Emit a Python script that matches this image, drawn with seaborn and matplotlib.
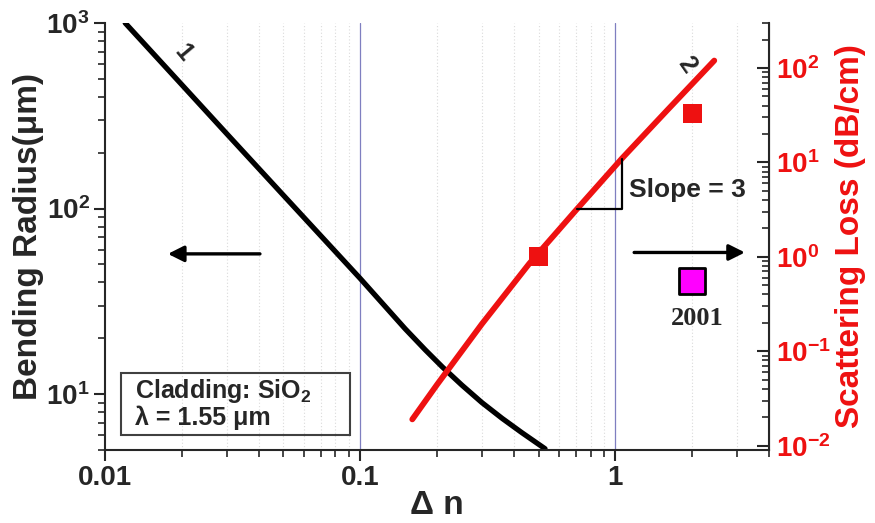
import numpy as np
import pandas as pd
import matplotlib
matplotlib.use("Agg")
import matplotlib.pyplot as plt
import matplotlib.ticker as mticker
from matplotlib.patches import Rectangle
import seaborn as sns

# curve 1: bending radius (um) vs index contrast
dn_bend = [0.012, 0.02, 0.03, 0.05, 0.1, 0.15, 0.18, 0.21, 0.25, 0.3, 0.36, 0.43, 0.53]
radius = [1000, 465, 253, 118, 42, 22.5, 17.3, 14.0, 11.2, 9.0, 7.4, 6.2, 5.08]

# curve 2: scattering loss (dB/cm) vs index contrast
dn_loss = [0.16, 0.2, 0.3, 0.46, 0.71, 1.06, 1.6, 2.44]
loss = [0.019, 0.0443, 0.195, 0.85, 3.25, 11.0, 36, 120]

# measured points
dn_meas = [0.5, 2.0]
loss_meas = [1.0, 33]
dn_2001 = [2.0]
loss_2001 = [0.56]

sns.set_style("white")
plt.rcParams['font.family'] = ['Liberation Sans', 'DejaVu Sans']
plt.rcParams['font.weight'] = 'bold'
plt.rcParams['axes.unicode_minus'] = False
plt.rcParams['mathtext.fontset'] = 'custom'
plt.rcParams['mathtext.rm'] = 'Liberation Sans:bold'
plt.rcParams['mathtext.bf'] = 'Liberation Sans:bold'
plt.rcParams['mathtext.it'] = 'Liberation Sans:bold:italic'
plt.rcParams['mathtext.default'] = 'regular'

fig = plt.figure(figsize=(8.75, 5.23), dpi=100)
ax = fig.add_axes([0.12, 0.1396, 0.7589, 0.8164])
ax2 = ax.twinx()

ax.set_xscale('log')
ax.set_yscale('log')
ax2.set_yscale('log')
ax.set_xlim(0.01, 4)
ax.set_ylim(5, 1000)
ax2.set_ylim(0.009, 300)

# light dotted grid at minor x positions, blue lines at decades
for dec in [0.01, 0.1, 1]:
    for m in range(2, 10):
        v = dec * m
        if v < 4:
            ax.axvline(v, color='#dadada', lw=0.8, ls=(0, (1, 2)), zorder=0)
for v in [0.1, 1]:
    ax.axvline(v, color='#7f7fc0', lw=0.9, zorder=0)

df1 = pd.DataFrame({'dn': dn_bend, 'r': radius})
df2 = pd.DataFrame({'dn': dn_loss, 'l': loss})
sns.lineplot(data=df1, x='dn', y='r', ax=ax, color='black', lw=3.8, legend=False)
sns.lineplot(data=df2, x='dn', y='l', ax=ax2, color='#ee1111', lw=4.2, legend=False)
sns.scatterplot(x=dn_meas, y=loss_meas, ax=ax2, marker='s', s=190,
                color='#ee1111', edgecolor='none', zorder=5)
sns.scatterplot(x=dn_2001, y=loss_2001, ax=ax2, marker='s', s=330,
                color='#ff00ff', edgecolor='black', linewidth=2, zorder=5)

# spines and ticks
ax.spines['top'].set_visible(False)
ax2.spines['top'].set_visible(False)
for s in ['left', 'bottom']:
    ax.spines[s].set_linewidth(1.5)
ax2.spines['right'].set_linewidth(1.5)
ax2.spines['left'].set_visible(False)
ax2.spines['bottom'].set_visible(False)

ax.xaxis.set_major_locator(mticker.FixedLocator([0.01, 0.1, 1]))
ax.xaxis.set_major_formatter(mticker.FuncFormatter(lambda v, p: '{:g}'.format(v)))
ax.xaxis.set_minor_locator(mticker.LogLocator(base=10, subs=np.arange(2, 10)))
ax.xaxis.set_minor_formatter(mticker.NullFormatter())
ax.yaxis.set_major_locator(mticker.LogLocator(base=10))
ax.yaxis.set_minor_locator(mticker.LogLocator(base=10, subs=np.arange(2, 10)))
ax.yaxis.set_minor_formatter(mticker.NullFormatter())
ax2.yaxis.set_major_locator(mticker.LogLocator(base=10))
ax2.yaxis.set_minor_locator(mticker.LogLocator(base=10, subs=np.arange(2, 10)))
ax2.yaxis.set_minor_formatter(mticker.NullFormatter())

ax.tick_params(axis='both', which='major', direction='out', length=8, width=1.5,
               labelsize=20, left=True, bottom=True, pad=3)
ax.tick_params(axis='both', which='minor', direction='out', length=5, width=1.2,
               left=True, bottom=True)
ax2.tick_params(axis='y', which='major', direction='in', length=9, width=1.5,
                labelsize=20, labelcolor='#ee1111', right=True, pad=5)
ax2.tick_params(axis='y', which='minor', direction='in', length=5, width=1.2, right=True)

ax.set_xlabel('Δ n', fontsize=24, fontweight='bold')
ax.xaxis.set_label_coords(0.5, -0.13)
ax.xaxis.label.set_va('center')
ax.set_ylabel('Bending Radius(μm)', fontsize=24, fontweight='bold')
ax.yaxis.set_label_coords(-0.092, 0.5)
ax2.set_ylabel('Scattering Loss (dB/cm)', fontsize=24, fontweight='bold',
               color='#ee1111')
ax2.yaxis.set_label_coords(1.1, 0.5)

# annotations
ax.text(0.0202, 690, '1', fontsize=18, rotation=-50, ha='center', va='center')
ax2.text(1.9, 108, '2', fontsize=18, rotation=-55, ha='center', va='center')
ax.annotate('', xy=(0.0172, 57), xytext=(0.0415, 57),
            arrowprops=dict(arrowstyle='-|>', color='black', lw=2.4, mutation_scale=24))
ax.annotate('', xy=(3.3, 58), xytext=(1.155, 58),
            arrowprops=dict(arrowstyle='-|>', color='black', lw=2.4, mutation_scale=24))
ax2.plot([0.71, 1.06, 1.06], [3.25, 3.25, 11.0], color='black', lw=1.6)
ax2.text(1.13, 5.1, 'Slope = 3', fontsize=19, va='center', ha='left')
ax2.text(2.1, 0.225, '2001', fontsize=19, fontweight='bold', ha='center', va='center',
         family=['Liberation Serif', 'DejaVu Serif'])

ax.add_patch(Rectangle((0.024, 0.035), 0.345, 0.145, transform=ax.transAxes,
                       fill=False, edgecolor='#404040', lw=1.5, zorder=4))
ax.text(0.045, 0.138, 'Cladding: SiO$_2$', transform=ax.transAxes, fontsize=18,
        va='center', ha='left')
ax.text(0.045, 0.075, 'λ = 1.55 μm', transform=ax.transAxes, fontsize=18,
        va='center', ha='left')

fig.savefig('out.png', dpi=100)
